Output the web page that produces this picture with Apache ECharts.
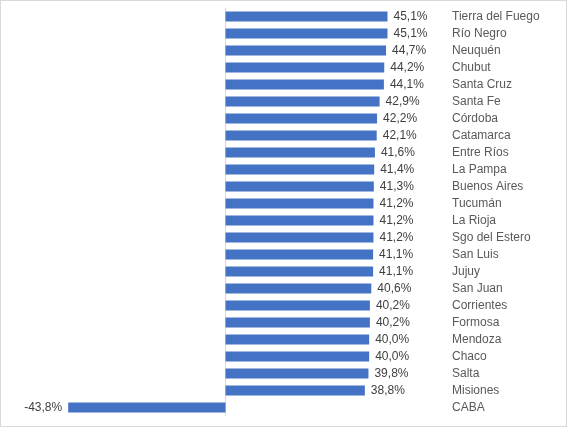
<!DOCTYPE html>
<html>
<head>
<meta charset="utf-8">
<script src="https://cdn.jsdelivr.net/npm/echarts@6/dist/echarts.min.js"></script>
<style>
  html, body { margin: 0; padding: 0; background: #fff; }
  #chart { width: 567px; height: 427px; box-sizing: border-box; border: 1px solid #d9d9d9; }
</style>
</head>
<body>
<div id="chart"></div>
<script>
// provincias, de arriba hacia abajo
var provincias = ['Tierra del Fuego', 'Río Negro', 'Neuquén', 'Chubut', 'Santa Cruz', 'Santa Fe',
  'Córdoba', 'Catamarca', 'Entre Ríos', 'La Pampa', 'Buenos Aires', 'Tucumán', 'La Rioja',
  'Sgo del Estero', 'San Luis', 'Jujuy', 'San Juan', 'Corrientes', 'Formosa', 'Mendoza',
  'Chaco', 'Salta', 'Misiones', 'CABA'];
var valores = [45.1, 45.1, 44.7, 44.2, 44.1, 42.9, 42.2, 42.1, 41.6, 41.4, 41.3, 41.2, 41.2,
  41.2, 41.1, 41.1, 40.6, 40.2, 40.2, 40.0, 40.0, 39.8, 38.8, -43.8];

var chart = echarts.init(document.getElementById('chart'), null, { renderer: 'canvas' });

var datos = [];
for (var i = 0; i < valores.length; i++) {
  datos.push({
    value: valores[i],
    label: { position: valores[i] < 0 ? 'left' : 'right' }
  });
}

var option = {
  animation: false,
  textStyle: { fontFamily: 'Liberation Sans, Arial, sans-serif' },
  grid: { left: 9, top: 7, width: 431, height: 408, containLabel: false },
  xAxis: {
    type: 'value',
    min: -60,
    max: 60,
    show: false
  },
  yAxis: [{
    type: 'category',
    inverse: true,
    position: 'left',
    data: provincias,
    axisLine: { onZero: true, lineStyle: { color: '#d9d9d9', width: 1 } },
    axisTick: { show: false },
    axisLabel: { show: false }
  }, {
    type: 'category',
    inverse: true,
    position: 'right',
    data: provincias,
    axisLine: { show: false },
    axisTick: { show: false },
    axisLabel: { margin: 11, color: '#595959', fontSize: 12 }
  }],
  series: [{
    type: 'bar',
    yAxisIndex: 0,
    data: datos,
    barCategoryGap: '40%',
    itemStyle: { color: '#4472C4' },
    label: {
      show: true,
      distance: 6,
      color: '#404040',
      fontSize: 12,
      formatter: function (p) {
        return p.value.toFixed(1).replace('.', ',') + '%';
      }
    }
  }]
};
chart.setOption(option);
</script>
</body>
</html>
